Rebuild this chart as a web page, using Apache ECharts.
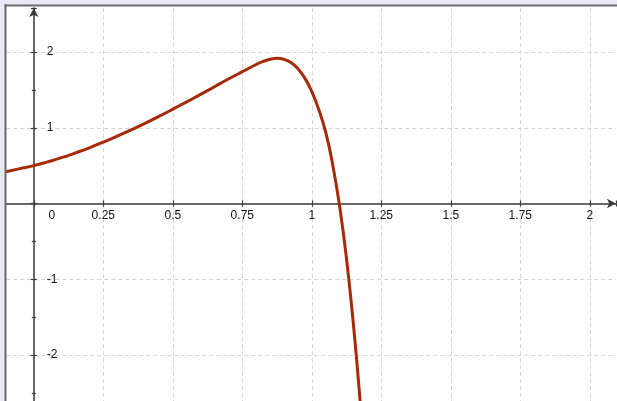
<!DOCTYPE html>
<html><head><meta charset="utf-8">
<script src="https://cdn.jsdelivr.net/npm/echarts@6/dist/echarts.min.js"></script>
<style>html,body{margin:0;padding:0;background:#fff}#c{width:617px;height:401px}</style>
</head><body><div id="c"></div>
<script>
// Curve samples
const xValues = [-0.1, -0.05, 0, 0.05, 0.1, 0.15, 0.2, 0.25, 0.3, 0.35, 0.4, 0.45, 0.5, 0.55, 0.6, 0.65, 0.7, 0.75, 0.8, 0.825, 0.85, 0.875, 0.9, 0.925, 0.95, 0.975, 1.0, 1.025, 1.05, 1.075, 1.1, 1.125, 1.15, 1.175, 1.2];
const yValues = [0.42, 0.46, 0.5, 0.55, 0.605, 0.668, 0.735, 0.81, 0.89, 0.972, 1.058, 1.15, 1.245, 1.342, 1.44, 1.542, 1.643, 1.74, 1.835, 1.875, 1.905, 1.917, 1.902, 1.86, 1.78, 1.655, 1.476, 1.241, 0.941, 0.516, -0.034, -0.734, -1.609, -2.659, -3.8];
const xTickStep = 0.25;
const yTickStep = 1;
const xRange = [-0.25, 2.094];
const yRange = [-3, 2.58];

// pixel scale
const X0 = 33.8, SX = 278, Y0 = 203.5, SY = 75.75;

const chart = echarts.init(document.getElementById('c'), null, {renderer: 'canvas'});
const lineColor = '#a62a08';
const axisColor = '#3a3a3a';
const gridColor = '#d6d6cf';
const font = 'Liberation Sans, Arial, sans-serif';

const xOffset = yRange[0] * SY;   // move bottom axis up to y = 0
const yOffset = xRange[0] * SX;   // move left axis right to x = 0

function xAxisBase(extra) {
  return Object.assign({
    type: 'value', position: 'bottom', offset: xOffset,
    min: xRange[0], max: xRange[1], interval: xTickStep,
  }, extra);
}
function yAxisBase(extra) {
  return Object.assign({
    type: 'value', position: 'left', offset: yOffset,
    min: yRange[0], max: yRange[1], interval: yTickStep,
  }, extra);
}

chart.setOption({
  animation: false,
  backgroundColor: '#ffffff',
  grid: {
    left: X0 + xRange[0] * SX,
    top: Y0 - yRange[1] * SY,
    width: (xRange[1] - xRange[0]) * SX,
    height: (yRange[1] - yRange[0]) * SY,
    containLabel: false,
    outerBoundsMode: 'none'
  },
  xAxis: [
    xAxisBase({
      axisLine: {onZero: false, lineStyle: {color: axisColor, width: 1.5}, symbol: ['none', 'arrow'], symbolSize: [7, 9]},
      axisTick: {show: true, length: 3, lineStyle: {color: axisColor, width: 1.2}},
      axisLabel: {
        margin: 6, color: '#111', fontSize: 12, fontFamily: font,
        showMinLabel: true, showMaxLabel: true, hideOverlap: false,
        formatter: function (v) {
          if (Math.abs(v) < 1e-9) return '{z|0}';
          if (v < -0.01 || v > 2.01) return '';
          return String(v);
        },
        rich: {z: {padding: [0, 0, 0, 36], fontSize: 12, color: '#111', fontFamily: font}}
      },
      splitLine: {show: true, showMinLine: false, showMaxLine: false, lineStyle: {color: gridColor, type: [4, 3], width: 1}}
    }),
    xAxisBase({
      axisLine: {show: false, onZero: false},
      axisTick: {show: true, inside: true, length: 3, lineStyle: {color: axisColor, width: 1.2}},
      axisLabel: {show: false},
      splitLine: {show: false}
    })
  ],
  yAxis: [
    yAxisBase({
      axisLine: {onZero: false, lineStyle: {color: axisColor, width: 1.5}, symbol: ['none', 'arrow'], symbolSize: [7, 9]},
      axisTick: {show: true, length: 3, lineStyle: {color: axisColor, width: 1.2}},
      minorTick: {show: true, splitNumber: 2, length: 2, lineStyle: {color: axisColor, width: 1.2}},
      axisLabel: {
        inside: true, margin: 13, color: '#111', fontSize: 12, fontFamily: font,
        showMinLabel: true, showMaxLabel: true, hideOverlap: false,
        formatter: function (v) {
          if (Math.abs(v - Math.round(v)) > 1e-9 || Math.abs(v) < 1e-9 || v < -2.9 || v > 2.5) return '';
          return String(Math.round(v));
        }
      },
      splitLine: {show: true, showMinLine: false, showMaxLine: false, lineStyle: {color: gridColor, type: [4, 3], width: 1}}
    }),
    yAxisBase({
      axisLine: {show: false, onZero: false},
      axisTick: {show: true, inside: true, length: 3, lineStyle: {color: axisColor, width: 1.2}},
      minorTick: {show: true, splitNumber: 2, length: 2, lineStyle: {color: axisColor, width: 1.2}},
      axisLabel: {show: false},
      splitLine: {show: false}
    })
  ],
  graphic: [
    {type: 'rect', z: 100, shape: {x: 0, y: 0, width: 617, height: 5}, style: {fill: '#e9e9f5'}},
    {type: 'rect', z: 100, shape: {x: 0, y: 0, width: 5, height: 401}, style: {fill: '#e9e9f5'}},
    {type: 'rect', z: 101, shape: {x: 4.5, y: 4.5, width: 613, height: 2}, style: {fill: '#6a6a6a'}},
    {type: 'rect', z: 101, shape: {x: 4.5, y: 4.5, width: 2, height: 397}, style: {fill: '#6a6a6a'}}
  ],
  series: [{
    type: 'line',
    xAxisIndex: 0, yAxisIndex: 0,
    data: xValues.map((x, i) => [x, yValues[i]]),
    showSymbol: false,
    smooth: 0.5,
    lineStyle: {color: lineColor, width: 3},
    clip: true,
    z: 5
  }]
});
</script></body></html>
